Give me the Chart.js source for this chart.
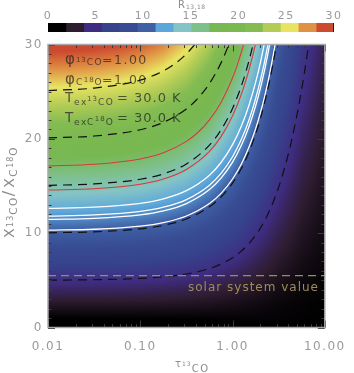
<!DOCTYPE html>
<html><head><meta charset="utf-8">
<script src="https://cdn.jsdelivr.net/npm/chart.js@4.4.1/dist/chart.umd.min.js"></script>
<style>
html,body{margin:0;padding:0;background:#fff;}
#wrap{position:relative;width:354px;height:373px;overflow:hidden;}
#main{position:absolute;left:0;top:0;}
#cb{position:absolute;left:0;top:0;}
</style></head><body>
<div id="wrap">
<canvas id="main" width="354" height="373"></canvas>
<canvas id="cb" width="354" height="40"></canvas>
</div>
<script>
// ---------------- DATA ----------------
// heat map: R13,18 sampled on log10(tau) columns and X13CO/XC18O rows
const tauGridLog = [-2,-1.75,-1.5,-1.25,-1,-0.75,-0.5,-0.25,0,0.25,0.5,0.75,1];
const xRatioGrid = [0,2.5,5,7.5,10,12.5,15,17.5,20,22.5,25,27.5,30];
const ratioGrid = [
 [0.01,0.018,0.031,0.055,0.095,0.163,0.271,0.430,0.632,0.831,0.958,0.996,1.000],
 [2.49,2.49,2.48,2.46,2.43,2.37,2.28,2.14,1.92,1.63,1.33,1.11,1.02],
 [4.98,4.96,4.94,4.89,4.81,4.66,4.42,4.04,3.49,2.78,2.04,1.48,1.16],
 [7.47,7.44,7.40,7.32,7.19,6.95,6.57,5.96,5.06,3.94,2.78,1.89,1.36],
 [9.96,9.92,9.86,9.75,9.56,9.24,8.71,7.87,6.64,5.10,3.53,2.32,1.58],
 [12.44,12.40,12.32,12.18,11.94,11.53,10.85,9.78,8.22,6.27,4.29,2.75,1.82],
 [14.93,14.88,14.78,14.61,14.32,13.82,13.00,11.69,9.80,7.43,5.04,3.19,2.06],
 [17.42,17.35,17.24,17.04,16.70,16.11,15.14,13.60,11.38,8.60,5.79,3.63,2.30],
 [19.91,19.83,19.70,19.48,19.08,18.41,17.28,15.52,12.96,9.77,6.55,4.07,2.54],
 [22.39,22.31,22.16,21.91,21.46,20.70,19.43,17.43,14.54,10.94,7.30,4.51,2.79],
 [24.88,24.79,24.62,24.34,23.84,22.99,21.57,19.34,16.12,12.10,8.06,4.95,3.03],
 [27.37,27.27,27.09,26.77,26.22,25.28,23.71,21.25,17.70,13.27,8.82,5.39,3.28],
 [29.86,29.74,29.55,29.20,28.60,27.57,25.85,23.16,19.28,14.44,9.57,5.83,3.53]
];
// contour lines [tau, X]
const ctrR5  = [[0.01,5.02],[0.0316,5.063],[0.1,5.204],[0.178,5.369],[0.316,5.673],[0.562,6.251],[0.75,6.725],[1.0,7.399],[1.25,8.118],[1.5,8.883],[1.78,9.788],[2.0,10.534],[2.5,12.326],[3.16,14.864],[4.0,18.30],[4.5,20.42],[5.0,22.58],[5.62,25.29],[6.0,26.96],[6.7,30.07]];
const ctrR10 = [[0.01,10.045],[0.0316,10.142],[0.1,10.458],[0.178,10.828],[0.316,11.506],[0.562,12.789],[0.75,13.836],[1.0,15.314],[1.25,16.886],[1.5,18.548],[1.78,20.507],[2.0,22.115],[2.25,24.008],[2.5,25.965],[2.75,27.981],[3.0,30.047]];
const ctrR15 = [[0.01,15.07],[0.0316,15.22],[0.1,15.713],[0.178,16.287],[0.316,17.339],[0.562,19.325],[0.75,20.945],[1.0,23.226],[1.25,25.649],[1.4,27.167],[1.5,28.206],[1.6,29.263],[1.668,29.995]];
const ctrR20 = [[0.01,20.097],[0.0316,20.30],[0.1,20.967],[0.178,21.745],[0.316,23.171],[0.4,24.066],[0.5,25.164],[0.562,25.862],[0.65,26.873],[0.75,28.052],[0.83,29.018],[0.91,30.004]];
const ctrR25 = [[0.01,25.12],[0.0316,25.38],[0.1,26.221],[0.178,27.204],[0.25,28.13],[0.316,29.004],[0.39,29.995]];
const ctrRedHi = [[0.01,17.129],[0.0316,17.302],[0.1,17.867],[0.178,18.524],[0.316,19.729],[0.42,20.669],[0.562,22.005],[0.75,23.859],[1.0,26.469],[1.15,28.113],[1.24,29.127],[1.318,30.02]];
const ctrRedLo = [[0.01,14.569],[0.0316,14.713],[0.1,15.187],[0.178,15.74],[0.316,16.755],[0.562,18.671],[0.75,20.234],[1.0,22.435],[1.25,24.772],[1.5,27.24],[1.63,28.571],[1.766,29.996]];
const ctrW1 = [[0.01,12.628],[0.0316,12.752],[0.1,13.159],[0.178,13.634],[0.316,14.504],[0.562,16.148],[0.75,17.49],[1.0,19.381],[1.25,21.39],[1.5,23.512],[1.78,26.013],[2.0,28.063],[2.2,29.986]];
const ctrW2 = [[0.01,11.813],[0.0316,11.929],[0.1,12.308],[0.178,12.749],[0.316,13.559],[0.562,15.089],[0.75,16.338],[1.0,18.1],[1.25,19.971],[1.5,21.948],[1.78,24.278],[2.0,26.188],[2.2,27.981],[2.42,30.01]];
const ctrW3 = [[0.01,11.452],[0.0316,11.564],[0.1,11.930],[0.178,12.356],[0.316,13.139],[0.562,14.619],[0.75,15.827],[1.0,17.53],[1.25,19.34],[1.5,21.253],[1.78,23.507],[2.0,25.356],[2.25,27.531],[2.52,29.964]];
const ctrW4 = [[0.01,10.316],[0.0316,10.416],[0.1,10.742],[0.178,11.123],[0.316,11.821],[0.562,13.142],[0.75,14.22],[1.0,15.742],[1.25,17.36],[1.5,19.07],[1.78,21.086],[2.0,22.741],[2.25,24.688],[2.5,26.701],[2.9,30.043]];
const solarValue = 5.5;
const solarLine = [[0.01,solarValue],[10,solarValue]];
// axes
const xMajorTicks = [0.01,0.1,1,10];
const xMinorTicks = [0.02,0.03,0.04,0.05,0.06,0.07,0.08,0.09,0.2,0.3,0.4,0.5,0.6,0.7,0.8,0.9,2,3,4,5,6,7,8,9];
const yMajorTicks = [0,10,20,30];
const yMinorTicks = [1,2,3,4,5,6,7,8,9,11,12,13,14,15,16,17,18,19,21,22,23,24,25,26,27,28,29];
// colour bar
const cbTicks = [0,5,10,15,20,25,30];
const cbStep = 1.875;
const cbColors = ['#000000','#2e1c30','#3f2c80','#36428c','#374c93','#4060a6','#5ca6da','#84c4c6','#7ec08c','#78b852','#7ab850','#84bc52','#b4cc56','#e8e462','#e09244','#cc4a30'];

// ---------------- helpers ----------------
const FONT = '"DejaVu Sans", sans-serif';
function hexRgb(h){return [parseInt(h.slice(1,3),16),parseInt(h.slice(3,5),16),parseInt(h.slice(5,7),16)];}
const cbRgb = cbColors.map(hexRgb);
function cmap(v){
  const f = v/cbStep - 0.5;
  if (f <= 0) return cbRgb[0];
  if (f >= cbRgb.length-1) return cbRgb[cbRgb.length-1];
  const i = Math.floor(f), t = f - i, a = cbRgb[i], b = cbRgb[i+1];
  return [a[0]+(b[0]-a[0])*t, a[1]+(b[1]-a[1])*t, a[2]+(b[2]-a[2])*t];
}
function locate(arr, v){
  if (v <= arr[0]) return [0,0];
  const n = arr.length-1;
  if (v >= arr[n]) return [n-1,1];
  let i = 0; while (arr[i+1] < v) i++;
  return [i,(v-arr[i])/(arr[i+1]-arr[i])];
}
function sample(lt, X){
  const [i,ti] = locate(tauGridLog, lt), [j,tj] = locate(xRatioGrid, X);
  const g = ratioGrid;
  const a = g[j][i]*(1-ti)+g[j][i+1]*ti, b = g[j+1][i]*(1-ti)+g[j+1][i+1]*ti;
  return a*(1-tj)+b*tj;
}
function rich(ctx, segs, x0, y0, color){
  let x = x0;
  ctx.fillStyle = color; ctx.textAlign='left'; ctx.textBaseline='alphabetic';
  for (const s of segs){
    const [t,size,dy,ls,ax] = s;
    if (ax !== undefined && ax !== null) x = ax;
    ctx.font = size+'px '+FONT;
    ctx.letterSpacing = (ls===undefined?1.5:ls)+'px';
    ctx.fillText(t, x, y0+dy);
    x += ctx.measureText(t).width;
  }
}
function lineDs(pts, color, width, dash){
  return {data: pts.map(p=>({x:p[0],y:p[1]})), borderColor: color, borderWidth: width, borderDash: dash||[],
    pointRadius:0, showLine:true, cubicInterpolationMode:'monotone', fill:false};
}

// ---------------- plugins ----------------
const spacing = {id:'spacing', beforeDraw(chart){ chart.ctx.letterSpacing='1.5px'; }};
const heat = {id:'heat', beforeDatasetsDraw(chart){
  const {ctx, chartArea:a, scales:{x,y}} = chart;
  const L=Math.round(a.left), T=Math.round(a.top), W=Math.round(a.right)-L, H=Math.round(a.bottom)-T;
  const off=document.createElement('canvas'); off.width=W; off.height=H;
  const o=off.getContext('2d'); const img=o.createImageData(W,H); const d=img.data;
  for (let j=0;j<H;j++){
    const X = y.getValueForPixel(T+j+0.5);
    for (let i=0;i<W;i++){
      const lt = Math.log10(x.getValueForPixel(L+i+0.5));
      const c = cmap(sample(lt,X)); const k=(j*W+i)*4;
      d[k]=c[0]; d[k+1]=c[1]; d[k+2]=c[2]; d[k+3]=255;
    }
  }
  o.putImageData(img,0,0); ctx.drawImage(off,L,T);
}};
const frame = {id:'frame', afterDatasetsDraw(chart){
  const {ctx, chartArea:a, scales:{x,y}} = chart;
  ctx.save();
  ctx.strokeStyle='#3a3a3a'; ctx.lineWidth=1;
  ctx.beginPath();
  const tick=(px,len,vert)=>{
    if(vert){ ctx.moveTo(px,a.bottom); ctx.lineTo(px,a.bottom-len); ctx.moveTo(px,a.top); ctx.lineTo(px,a.top+len); }
    else { ctx.moveTo(a.left,px); ctx.lineTo(a.left+len,px); ctx.moveTo(a.right,px); ctx.lineTo(a.right-len,px); }
  };
  xMajorTicks.forEach(v=>tick(Math.round(x.getPixelForValue(v))+0.5,7,true));
  xMinorTicks.forEach(v=>tick(Math.round(x.getPixelForValue(v))+0.5,3.5,true));
  yMajorTicks.forEach(v=>tick(Math.round(y.getPixelForValue(v))+0.5,7,false));
  yMinorTicks.forEach(v=>tick(Math.round(y.getPixelForValue(v))+0.5,3.5,false));
  ctx.stroke();
  ctx.strokeStyle='#a8a8a8'; ctx.lineWidth=1.5;
  ctx.strokeRect(a.left,a.top,a.right-a.left,a.bottom-a.top);
  ctx.restore();
}};
const texts = {id:'texts', afterDraw(chart){
  const ctx = chart.ctx; ctx.save();
  const tc = 'rgba(35,35,35,0.72)';
  rich(ctx,[['\u03c6',15,0,1],['13',7,-2,1],['CO',9,1.5,1.5],['=1.00',12.5,0,1.5,102]],65,63.5,tc);
  rich(ctx,[['\u03c6',15,0,1],['C',9,1.5,1.5],['18',7,-2,1],['O',9,1.5,1.5],['=1.00',12.5,0,1.5,102]],65,83.5,tc);
  rich(ctx,[['T',13.5,0,1],['ex',9,2.5,1.5,74],['13',7,-1.5,1,87],['CO',9,2.5,1.5],['= 30.0 K',13,0,1,117]],65,102,tc);
  rich(ctx,[['T',13.5,0,1],['ex',9,2.5,1.5,74],['C',9,2.5,1.5,87],['18',7,-1.5,1],['O',9,2.5,1.5],['= 30.0 K',13,0,1,117]],65,122,tc);
  // solar label
  rich(ctx,[['solar system value',12,0,1]],188,291,'#a08c58');
  // x title
  rich(ctx,[['\u03c4',10,0,1],['13',6,-1,1],['CO',10,5,1.5]],175,367,'#8c8c8c');
  // y title rotated
  ctx.save(); ctx.translate(14,238); ctx.rotate(-Math.PI/2);
  rich(ctx,[['X',14,0],['13',8,-1.5,1],['CO',10.5,3],['/',16,0,3],['X',14,0],['C',10.5,3],['18',8,-1.5,1],['O',10.5,3]],0,0,'#8c8c8c');
  ctx.restore();
  ctx.restore();
}};
const cbTitle = {id:'cbTitle', afterDraw(chart){
  const ctx=chart.ctx; ctx.save();
  rich(ctx,[['R',10,0,1],['13,18',6,1,0.5]],178,7.5,'#8c8c8c');
  ctx.strokeStyle='#222'; ctx.lineWidth=1;
  const a=chart.chartArea;
  ctx.beginPath(); ctx.moveTo(a.right-0.5,a.top); ctx.lineTo(a.right-0.5,a.bottom); ctx.stroke();
  ctx.restore();
}};

// ---------------- main chart ----------------
const tickFont = {family:'DejaVu Sans', size:12};
new Chart(document.getElementById('main'), {
  type:'scatter',
  data:{datasets:[
    lineDs(solarLine,'#a08c58',1.1,[8,5]),
    lineDs(ctrR5,'#111111',1.2,[9,6]),
    lineDs(ctrR10,'#111111',1.2,[9,6]),
    lineDs(ctrR15,'#111111',1.2,[9,6]),
    lineDs(ctrR20,'#111111',1.2,[9,6]),
    lineDs(ctrR25,'#111111',1.2,[9,6]),
    lineDs(ctrW1,'#ffffff',1.3),
    lineDs(ctrW2,'#ffffff',1.3),
    lineDs(ctrW3,'#ffffff',1.3),
    lineDs(ctrW4,'#ffffff',1.3),
    lineDs(ctrRedHi,'#d83a3a',1.1),
    lineDs(ctrRedLo,'#d83a3a',1.1)
  ]},
  options:{
    responsive:false, animation:false, events:[],
    layout:{padding:{left:0,right:20,top:44.5,bottom:0}},
    plugins:{legend:{display:false}, tooltip:{enabled:false}},
    scales:{
      x:{type:'logarithmic', min:0.01, max:10,
        afterBuildTicks:s=>{ s.ticks = xMajorTicks.map(v=>({value:v})); },
        afterFit:s=>{ s.height = 45.5; },
        ticks:{callback:v=>Number(v).toFixed(2), color:'#9a9a9a', font:tickFont, padding:12, maxRotation:0, autoSkip:false},
        grid:{display:false, drawTicks:false}, border:{display:false}},
      y:{type:'linear', min:0, max:30,
        afterBuildTicks:s=>{ s.ticks = yMajorTicks.map(v=>({value:v})); },
        afterFit:s=>{ s.width = 48; },
        ticks:{color:'#9a9a9a', font:tickFont, padding:5, autoSkip:false},
        grid:{display:false, drawTicks:false}, border:{display:false}}
    }
  },
  plugins:[spacing, heat, frame, texts]
});

// ---------------- colour bar ----------------
new Chart(document.getElementById('cb'), {
  type:'bar',
  data:{labels:[''], datasets: cbColors.map(c=>({data:[cbStep], backgroundColor:c, borderWidth:0, barPercentage:1, categoryPercentage:1, stack:'cb'}))},
  options:{
    indexAxis:'y', responsive:false, animation:false, events:[],
    layout:{padding:{left:48,right:20,top:0,bottom:8}},
    plugins:{legend:{display:false}, tooltip:{enabled:false}},
    scales:{
      x:{position:'top', type:'linear', min:0, max:30, stacked:true,
        afterBuildTicks:s=>{ s.ticks = cbTicks.map(v=>({value:v})); },
        afterFit:s=>{ s.height = 23; },
        ticks:{color:'#9a9a9a', font:{family:'DejaVu Sans', size:11}, padding:0, maxRotation:0, autoSkip:false},
        grid:{display:false, drawTicks:false}, border:{display:false}},
      y:{display:false, stacked:true}
    }
  },
  plugins:[spacing, cbTitle]
});
</script>
</body></html>
